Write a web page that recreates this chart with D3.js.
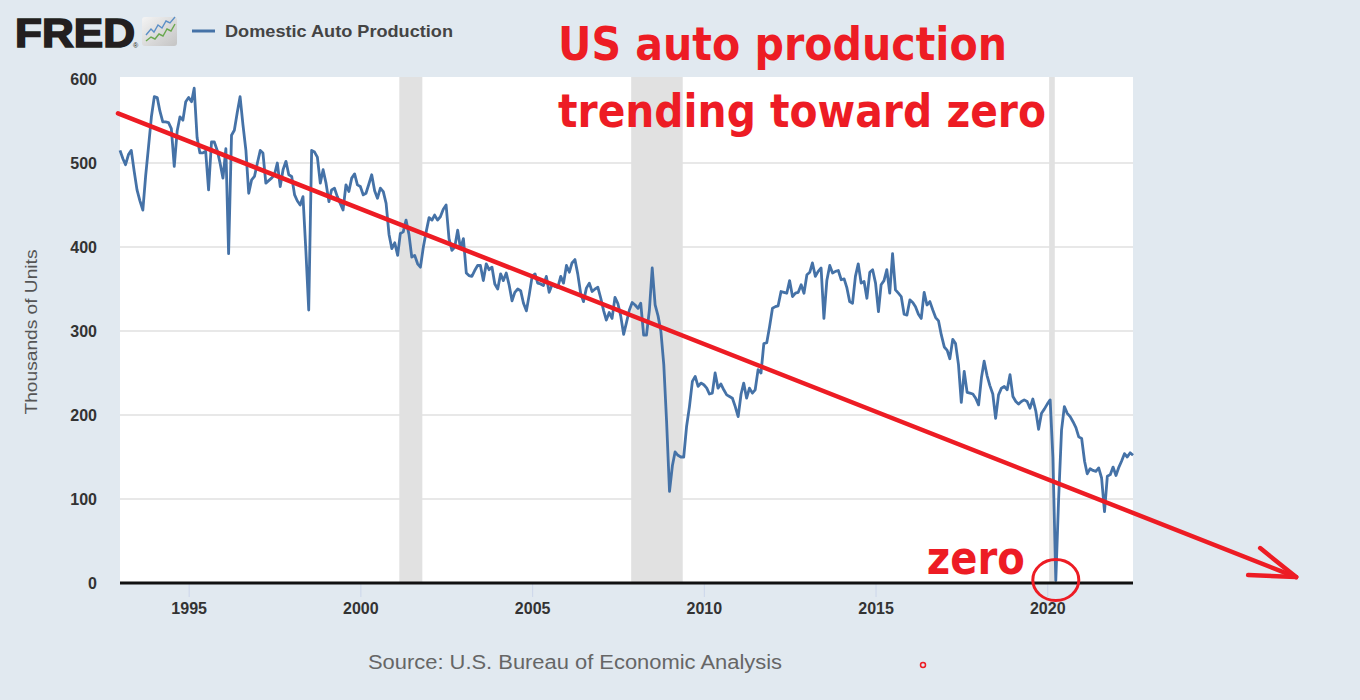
<!DOCTYPE html>
<html><head><meta charset="utf-8">
<script src="https://cdn.jsdelivr.net/npm/d3@7"></script>
<style>
body{margin:0;background:#e1e9f0;}
svg{display:block;}
</style>
</head><body>
<svg id="chart" width="1360" height="700"></svg>
<script>
// ---- data ----
const seriesName = "Domestic Auto Production";
const startMonth = "1993-01-01";
const production = [
  515,505,498,510,515,490,468,455,444,485,520,555, // 1993
  579,578,562,549,549,548,541,496,538,555,551,573, // 1994
  578,573,589,530,512,512,514,468,525,525,515,500, // 1995
  482,517,392,533,539,560,579,545,515,464,480,484, // 1996
  500,515,512,476,479,482,486,500,472,492,502,486, // 1997
  484,462,455,450,460,395,325,515,513,507,476,492, // 1998
  476,454,468,470,460,452,444,474,466,482,487,474, // 1999
  472,462,464,475,486,467,458,470,466,452,415,398, // 2000
  405,390,416,418,432,415,388,390,380,376,400,418, // 2001
  435,432,438,432,436,445,450,410,396,400,420,398, // 2002
  410,369,366,365,372,378,378,360,380,373,376,356, // 2003
  350,368,360,369,355,336,346,350,348,333,324,343, // 2004
  365,368,357,356,354,365,346,355,353,352,365,357, // 2005
  378,370,381,385,368,345,335,351,357,347,350,352, // 2006
  339,324,313,322,315,340,333,318,296,310,325,334, // 2007
  331,327,333,295,295,325,375,331,318,300,260,192, // 2008
  109,140,156,152,150,150,186,210,240,246,234,238, // 2009
  236,232,225,226,250,232,237,230,224,222,220,210, // 2010
  198,225,238,220,232,226,230,254,250,285,286,305, // 2011
  327,329,330,347,346,345,360,341,345,346,355,345, // 2012
  367,370,381,365,371,375,315,360,378,369,371,372, // 2013
  361,362,352,335,333,365,380,357,359,339,370,373, // 2014
  357,323,355,360,373,345,392,349,345,341,320,319, // 2015
  337,334,329,320,315,346,331,335,325,316,312,295, // 2016
  281,277,267,290,285,260,215,252,227,226,225,220, // 2017
  212,245,264,247,235,225,196,224,232,234,230,248, // 2018
  222,216,213,216,218,216,208,219,205,183,202,207, // 2019
  213,218,150,3,100,182,210,202,198,192,185,174,   // 2020
  172,145,130,136,134,133,137,125,85,127,129,138,  // 2021
  128,138,145,154,150,155,152                      // 2022
];
const recessions = [["2001-03-01","2001-11-01"],["2007-12-01","2009-06-01"],["2020-02-01","2020-04-01"]];
const yTicks = [0,100,200,300,400,500,600];
const xTickYears = [1995,2000,2005,2010,2015,2020];
const yTitle = "Thousands of Units";
const sourceText = "Source: U.S. Bureau of Economic Analysis";
const titleLines = ["US auto production","trending toward zero"];
const trendPoints = [["1993-01-01",559],["2027-04-01",7]];
const zeroMark = ["2020-04-01",0];
const zeroLabel = "zero";

// ---- setup ----
const svg = d3.select("#chart");
const W = 1360, H = 700;
const plot = {left:120, right:1133, top:77, bottom:583};
const parse = d3.utcParse("%Y-%m-%d");
const start = parse(startMonth);
const data = production.map((v,i)=>({date:d3.utcMonth.offset(start,i), value:v}));

const x = d3.scaleUtc()
  .domain([data[0].date, data[data.length-1].date])
  .range([plot.left, plot.right]);
const y = d3.scaleLinear().domain([0,600]).range([583,79]);

const RED = "#ed1c24";
const BLUE = "#4572a7";

svg.append("rect").attr("width",W).attr("height",H).attr("fill","#e1e9f0");

// plot background
svg.append("rect")
  .attr("x",plot.left).attr("y",plot.top)
  .attr("width",plot.right-plot.left).attr("height",plot.bottom-plot.top)
  .attr("fill","#ffffff");

// recessions
svg.append("g").selectAll("rect").data(recessions).join("rect")
  .attr("x",d=>x(parse(d[0]))-1)
  .attr("width",d=>Math.max(3, x(parse(d[1]))-x(parse(d[0]))))
  .attr("y",plot.top).attr("height",plot.bottom-plot.top)
  .attr("fill","#e1e1e1");

// gridlines
svg.append("g").selectAll("line").data(yTicks.filter(t=>t>0 && t<600)).join("line")
  .attr("x1",plot.left).attr("x2",plot.right)
  .attr("y1",d=>y(d)).attr("y2",d=>y(d))
  .attr("stroke","#e0e0e0").attr("stroke-width",1.5);

// y axis
const yAxis = svg.append("g").attr("transform",`translate(${plot.left},0)`)
  .call(d3.axisLeft(y).tickValues(yTicks).tickSize(0).tickPadding(23));
yAxis.select(".domain").remove();
yAxis.selectAll("text")
  .attr("font-family","'Liberation Sans', Arial, sans-serif")
  .attr("font-size",16).attr("font-weight","bold").attr("fill","#333");

// x axis
const xAxis = svg.append("g").attr("transform",`translate(0,${plot.bottom+1})`)
  .call(d3.axisBottom(x).tickValues(xTickYears.map(yr=>new Date(Date.UTC(yr,0,1))))
    .tickSize(13).tickPadding(6).tickFormat(d3.utcFormat("%Y")));
xAxis.select(".domain").remove();
xAxis.selectAll(".tick line").attr("stroke","#ccd6eb");
xAxis.selectAll("text")
  .attr("font-family","'Liberation Sans', Arial, sans-serif")
  .attr("font-size",16).attr("font-weight","bold").attr("fill","#333");

// series line
svg.append("path").datum(data)
  .attr("d", d3.line().x(d=>x(d.date)).y(d=>y(d.value)))
  .attr("fill","none").attr("stroke",BLUE).attr("stroke-width",2.8)
  .attr("stroke-linejoin","round");

// zero axis line
svg.append("line")
  .attr("x1",plot.left).attr("x2",plot.right)
  .attr("y1",y(0)).attr("y2",y(0))
  .attr("stroke","#111").attr("stroke-width",3);

// y title
svg.append("text")
  .attr("transform",`translate(37,332) rotate(-90)`)
  .attr("text-anchor","middle")
  .attr("textLength",165).attr("lengthAdjust","spacingAndGlyphs")
  .attr("font-family","'Liberation Sans', Arial, sans-serif")
  .attr("font-size",17).attr("fill","#555")
  .text(yTitle);

// source
svg.append("text")
  .attr("x",368).attr("y",669)
  .attr("textLength",414).attr("lengthAdjust","spacingAndGlyphs")
  .attr("font-family","'Liberation Sans', Arial, sans-serif")
  .attr("font-size",20).attr("fill","#666")
  .text(sourceText);

// FRED logo
svg.append("text")
  .attr("x",15).attr("y",47)
  .attr("textLength",120).attr("lengthAdjust","spacingAndGlyphs")
  .attr("font-family","'Liberation Sans', Arial, sans-serif")
  .attr("font-size",40).attr("font-weight","bold")
  .attr("fill","#231f20").attr("stroke","#231f20").attr("stroke-width",1.6)
  .text("FRED");
svg.append("text").attr("x",133).attr("y",48)
  .attr("font-family","'Liberation Sans', Arial, sans-serif")
  .attr("font-size",7).attr("fill","#231f20").text("®");
const defs = svg.append("defs");
const grad = defs.append("linearGradient").attr("id","ig")
  .attr("x1","0").attr("y1","0").attr("x2","1").attr("y2","1");
grad.append("stop").attr("offset","0").attr("stop-color","#f4f4f4");
grad.append("stop").attr("offset","1").attr("stop-color","#c4c4c4");
svg.append("rect").attr("x",142).attr("y",17).attr("width",35).attr("height",29)
  .attr("rx",3).attr("fill","url(#ig)");
svg.append("path").attr("d","M146,35 L151,29 L154,32 L158,25 L162,28 L166,21 L170,23 L175,17")
  .attr("fill","none").attr("stroke","#5b8fc7").attr("stroke-width",1.4);
svg.append("path").attr("d","M146,41 L151,37 L155,39 L159,34 L163,36 L167,29 L171,31 L175,24")
  .attr("fill","none").attr("stroke","#6aa84f").attr("stroke-width",1.4);

// legend
svg.append("line").attr("x1",192).attr("x2",215).attr("y1",31).attr("y2",31)
  .attr("stroke",BLUE).attr("stroke-width",3);
svg.append("text").attr("x",225).attr("y",37)
  .attr("textLength",228).attr("lengthAdjust","spacingAndGlyphs")
  .attr("font-family","'Liberation Sans', Arial, sans-serif")
  .attr("font-size",17).attr("font-weight","bold").attr("fill","#444")
  .text(seriesName);

// ---- annotations ----
const comic = "'DejaVu Sans', 'Noto Sans', sans-serif";
svg.append("text").attr("x",558).attr("y",60)
  .attr("textLength",449).attr("lengthAdjust","spacingAndGlyphs")
  .attr("font-family",comic).attr("font-size",46).attr("font-weight","bold")
  .attr("fill",RED).text(titleLines[0]);
svg.append("text").attr("x",558).attr("y",127)
  .attr("textLength",488).attr("lengthAdjust","spacingAndGlyphs")
  .attr("font-family",comic).attr("font-size",46).attr("font-weight","bold")
  .attr("fill",RED).text(titleLines[1]);

// trend arrow
const t0 = [x(parse(trendPoints[0][0])), y(trendPoints[0][1])];
const t1 = [x(parse(trendPoints[1][0])), y(trendPoints[1][1])];
svg.append("line")
  .attr("x1",t0[0]-2).attr("y1",t0[1]).attr("x2",t1[0]).attr("y2",t1[1])
  .attr("stroke",RED).attr("stroke-width",4.5).attr("stroke-linecap","round");
svg.append("path")
  .attr("d",`M${t1[0]-36},${t1[1]-29} L${t1[0]},${t1[1]} L${t1[0]-48},${t1[1]-2}`)
  .attr("fill","none").attr("stroke",RED).attr("stroke-width",4.5)
  .attr("stroke-linecap","round").attr("stroke-linejoin","round");

// zero label + circle
const zx = x(parse(zeroMark[0])), zy = y(zeroMark[1]);
svg.append("ellipse").attr("cx",zx).attr("cy",zy-3).attr("rx",23).attr("ry",20.5)
  .attr("fill","none").attr("stroke",RED).attr("stroke-width",3);
svg.append("text").attr("x",zx-129).attr("y",zy-9)
  .attr("textLength",98).attr("lengthAdjust","spacingAndGlyphs")
  .attr("font-family",comic).attr("font-size",46).attr("font-weight","bold")
  .attr("fill",RED).text(zeroLabel);

// tiny stray circle
svg.append("circle").attr("cx",923).attr("cy",665).attr("r",2.5)
  .attr("fill","none").attr("stroke",RED).attr("stroke-width",1.5);
</script>
</body></html>
